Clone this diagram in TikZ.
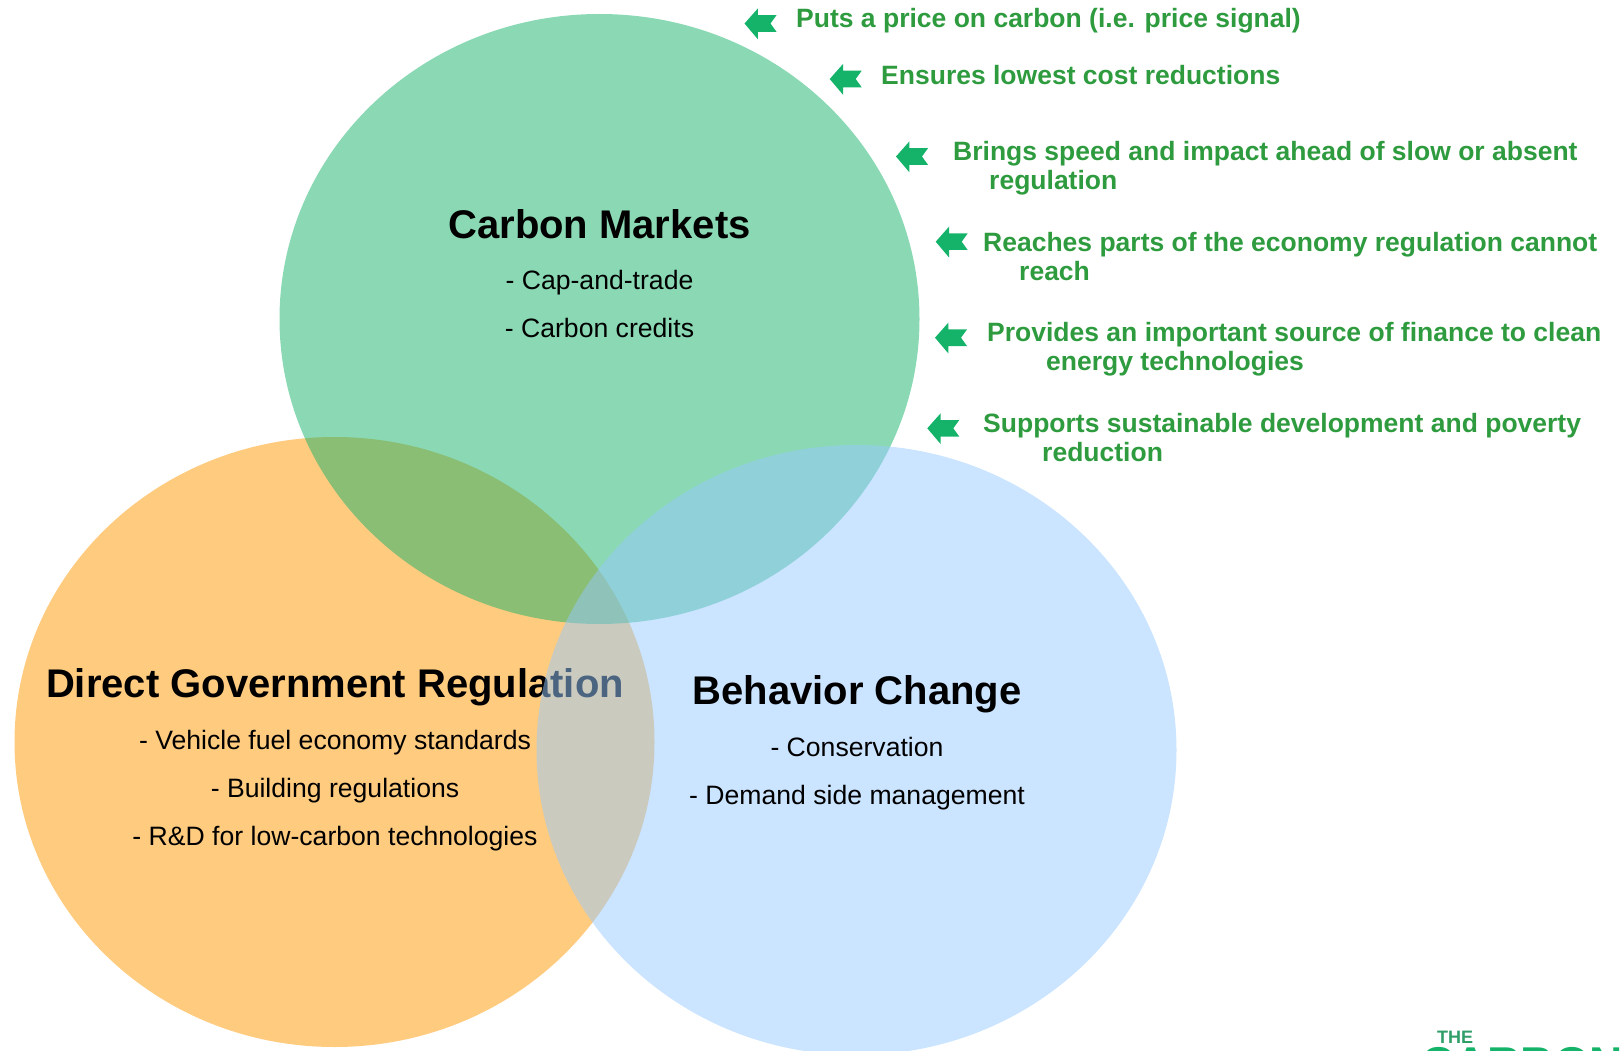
\documentclass[tikz,border=0pt]{standalone}
\usepackage{fontspec}
\setmainfont{Liberation Sans}
\usepackage{xcolor}
\definecolor{MarketGreen}{HTML}{15B369}
\definecolor{RegOrange}{HTML}{FF9700}
\definecolor{ChangeBlue}{HTML}{97C9FF}
\definecolor{BenefitGreen}{HTML}{2E9B3F}
\definecolor{LogoGreen}{HTML}{2F9E68}
\tikzset{
    Circle/.style = {fill=#1,fill opacity=0.5,draw=none},
    Title/.style = {font=\bfseries\fontsize{40}{46}\selectfont,inner sep=0pt},
    Item/.style = {font=\fontsize{26.6}{32}\selectfont,inner sep=0pt},
    Benefit/.style = {font=\bfseries\fontsize{26.5}{29}\selectfont,text=BenefitGreen,
        anchor=west,align=left,inner sep=0pt},
    Logo/.style = {font=\bfseries\fontsize{#1}{#1}\selectfont,anchor=base west,inner sep=0pt}
}
\begin{document}
\begin{tikzpicture}[x=1pt,y=-1pt]
        \useasboundingbox (0,0) rectangle (1623,1051);
        % orange first, its title runs under the blue one
        \fill[Circle=RegOrange] (334.5,742) ellipse [x radius=320,y radius=305];
        \node[Title] (regtitle) at (335,687) {Direct Government Regulation};
        \node[Item] (reg1) at (335,743) {- Vehicle fuel economy standards};
        \node[Item] (reg2) at (335,791) {- Building regulations};
        \node[Item] (reg3) at (335,839) {- R\&D for low-carbon technologies};
        \fill[Circle=MarketGreen] (599.5,319) ellipse [x radius=320,y radius=305];
        \fill[Circle=ChangeBlue] (856.5,750) ellipse [x radius=320,y radius=305];
        \node[Title] (markettitle) at (599.5,224) {Carbon Markets};
        \node[Item] (market1) at (599.5,283) {- Cap-and-trade};
        \node[Item] (market2) at (599.5,328) {- Carbon credits};
        \node[Title] (changetitle) at (857,694) {Behavior Change};
        \node[Item] (change1) at (857,747) {- Conservation};
        \node[Item] (change2) at (857,798) {- Demand side management};
        % the arrows
        \foreach \X/\Y in {744.5/23.5,829.7/79,896/156.5,935.7/241.7,935/337.7,927.3/428.3}
            {\fill[MarketGreen] (\X,\Y) -- ++(13.3,-15) -- ++(0,6.7) -- ++(18.7,0) -- ++(-6,8.3)
                -- ++(6,8.3) -- ++(-18.7,0) -- ++(0,7.4) -- cycle;}
        \node[Benefit] (benefit1) at (796,20.5) {Puts a price on carbon (i.e. price signal)};
        \node[Benefit] (benefit2) at (881,75.5) {Ensures lowest cost reductions};
        \node[Benefit] (benefit3) at (953,168) {Brings speed and impact ahead of slow or absent\\\hspace*{36pt}regulation};
        \node[Benefit] (benefit4) at (983,257) {Reaches parts of the economy regulation cannot\\\hspace*{36pt}reach};
        \node[Benefit] (benefit5) at (987,349.5) {Provides an important source of finance to clean\\\hspace*{59pt}energy technologies};
        \node[Benefit] (benefit6) at (983,438) {Supports sustainable development and poverty\\\hspace*{59pt}reduction};
        % logo, cut off by the page edge
        \node[Logo=18,text=LogoGreen] (logothe) at (1437,1043.5) {THE};
        \node[Logo=46,text=MarketGreen] (logoname) at (1421,1079) {CARBON};
\end{tikzpicture}
\end{document}
